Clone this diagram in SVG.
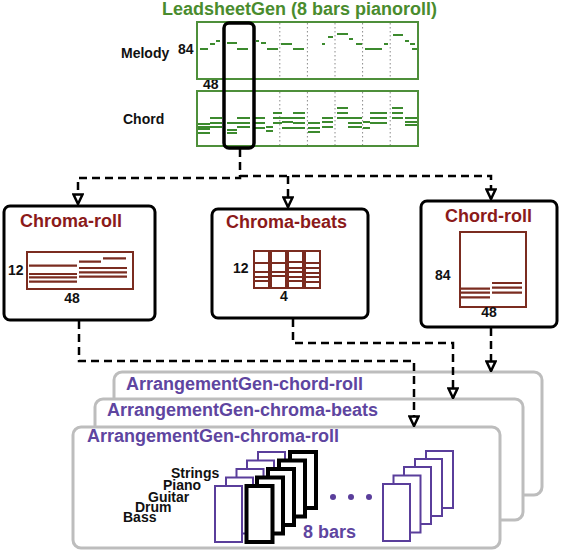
<svg xmlns="http://www.w3.org/2000/svg" width="564" height="552" viewBox="0 0 564 552">
<defs>
<style>
text{font-family:"Liberation Sans",Arial,sans-serif;font-weight:bold}
.lbl{font-size:14px;fill:#111}
.ins{font-size:14px;fill:#111}
.ttl{font-size:18px;fill:#8b1a1a}
.ptl{font-size:18px;fill:#5e45a0}
.gbox{fill:#fff;stroke:#4e8f3a;stroke-width:2}
.note{stroke:#3c8a2e;stroke-width:2;fill:none}
.bar{stroke:#8a8a8a;stroke-width:1;stroke-dasharray:1.5,2.5}
.node{fill:#fff;stroke:#000;stroke-width:3}
.inner{fill:#fff;stroke:#7b2c20;stroke-width:2}
.rl{stroke:#7b2c20;stroke-width:2.2;fill:none}
.arr{fill:#fff;stroke:#bdbdbd;stroke-width:3}
.conn{fill:none;stroke:#000;stroke-width:2.5;stroke-dasharray:8,5}
.pr{fill:#fff;stroke:#5a3e9b;stroke-width:2}
.br{fill:#fff;stroke:#000;stroke-width:4}
</style>
<marker id="ah" viewBox="0 0 12 12" refX="11" refY="6" markerWidth="12" markerHeight="12" markerUnits="userSpaceOnUse" orient="auto">
<path d="M1.5,1.5 L1.5,10.5 L11,6 Z" fill="#fff" stroke="#000" stroke-width="2.5" stroke-linejoin="miter"/>
</marker>
</defs>
<rect width="564" height="552" fill="#fff"/>

<g id="leadsheetgen">
<text x="162" y="15" style="font-size:18px;fill:#4a8c2e">LeadsheetGen (8 bars pianoroll)</text>
<text class="lbl" x="121" y="58">Melody</text>
<text class="lbl" x="123" y="124">Chord</text>
<text class="lbl" x="178" y="54">84</text>
<text class="lbl" x="203" y="89">48</text>
<rect class="gbox" x="197" y="22" width="221" height="57"/>
<rect class="gbox" x="197" y="91" width="221" height="55"/>
<g class="bar">
<path d="M279.8,23V78M307.4,23V78M335,23V78M362.6,23V78M390.2,23V78"/>
<path d="M279.8,92V145M307.4,92V145M335,92V145M362.6,92V145M390.2,92V145"/>
</g>
<path class="note" d="M200,49H208M210,44H215M216,41H220M227,43H237M237,49H248M256,41H259M261,43H266M267,49H278M281,44H292M293,49H304M322,44H325M328,37H333M337,34H348M349,39H353M356,44H362M365,49H382M384,44H388M393,35H403M405,41H409M410,44H415M412,49H417"/>
<path class="note" d="M198,124H210M198,127H210M198,129H210M198,133H210M210,118H222M210,123H222M210,127H222M227,123H237M227,130H237M227,133H237M237,118H250M237,123H250M237,127H250M255,118H265M255,123H265M255,128H265M266,127H273M266,131H273M273,113H282M273,118H282M273,123H282M282,118H293M282,122H293M282,128H293M293,113H305M293,118H305M293,123H305M293,128H305M308,123H320M308,128H320M308,132H320M322,118H333M322,122H333M322,127H333M337,108H348M337,113H348M337,118H348M348,118H362M348,123H362M348,127H362M363,122H370M363,128H370M370,113H387M370,118H387M370,123H387M392,108H403M392,113H403M392,118H403M405,118H417M405,122H417M405,125H417"/>
<rect x="224" y="23" width="30" height="125" rx="5" fill="none" stroke="#000" stroke-width="3.5"/>
</g>

<g id="chroma-roll">
<rect class="node" x="4" y="206" width="151" height="114" rx="6"/>
<text class="ttl" x="20" y="227">Chroma-roll</text>
<rect class="inner" x="27" y="252" width="106" height="37"/>
<path class="rl" d="M29,265.7H77M29,274H77M29,277.3H77M29,281.7H77M79,261.7H101M103,258.3H126M79,268H127M79,272.3H127M79,276.7H127"/>
<text class="lbl" x="8" y="275">12</text>
<text class="lbl" x="72" y="303" text-anchor="middle">48</text>
</g>

<g id="chroma-beats">
<rect class="node" x="212" y="209" width="156" height="109" rx="6"/>
<text class="ttl" x="226" y="228">Chroma-beats</text>
<g>
<rect class="inner" x="254" y="251" width="15" height="37"/>
<rect class="inner" x="271" y="251" width="15" height="37"/>
<rect class="inner" x="288" y="251" width="15" height="37"/>
<rect class="inner" x="305" y="251" width="15" height="37"/>
<path class="rl" d="M254,263H269M254,272H269M254,277H269M254,281H269M271,263H286M271,272H286M271,276H286M288,262H303M288,268H303M288,272H303M288,277H303M288,281H303M305,263H320M305,268H320M305,273H320M305,277H320M305,282H320"/>
</g>
<text class="lbl" x="233" y="273">12</text>
<text class="lbl" x="284" y="301" text-anchor="middle">4</text>
</g>

<g id="chord-roll">
<rect class="node" x="421" y="201" width="136" height="126" rx="6"/>
<text class="ttl" x="445" y="222">Chord-roll</text>
<rect class="inner" x="460" y="232" width="66" height="75"/>
<path class="rl" d="M461,288.7H490M461,292.7H490M461,297.3H490M492,283H522M492,287.7H522M492,292.7H522"/>
<text class="lbl" x="435" y="280">84</text>
<text class="lbl" x="489" y="317" text-anchor="middle">48</text>
</g>

<g id="arrangementgen-chord-roll">
<rect class="arr" x="114" y="372" width="428" height="123" rx="8"/>
<text class="ptl" x="126" y="390">ArrangementGen-chord-roll</text>
</g>
<g id="arrangementgen-chroma-beats">
<rect class="arr" x="95" y="399" width="428" height="121" rx="8"/>
<text class="ptl" x="107" y="416">ArrangementGen-chroma-beats</text>
</g>
<g id="arrangementgen-chroma-roll">
<rect class="arr" x="73" y="427" width="427" height="121" rx="8"/>
<text class="ptl" x="87" y="442">ArrangementGen-chroma-roll</text>
<text class="ins" x="171" y="478">Strings</text>
<text class="ins" x="163" y="490">Piano</text>
<text class="ins" x="148" y="502">Guitar</text>
<text class="ins" x="135" y="512">Drum</text>
<text class="ins" x="123" y="522">Bass</text>
<g>
<rect class="pr" x="258" y="452" width="27" height="56"/>
<rect class="pr" x="247" y="460.5" width="27" height="56"/>
<rect class="pr" x="236.5" y="469" width="27" height="56"/>
<rect class="pr" x="226" y="477.5" width="27" height="56"/>
<rect class="pr" x="215" y="486" width="27" height="56"/>
</g>
<g>
<rect class="br" x="290" y="452" width="26" height="56"/>
<rect class="br" x="279" y="460.5" width="26" height="56"/>
<rect class="br" x="268" y="469" width="26" height="56"/>
<rect class="br" x="257" y="477.5" width="26" height="56"/>
<rect class="br" x="246.5" y="486" width="26" height="56"/>
</g>
<g fill="#5a3e9b">
<circle cx="333" cy="497" r="3"/>
<circle cx="351" cy="497" r="3"/>
<circle cx="369" cy="497" r="3"/>
</g>
<g>
<rect class="pr" x="426" y="451" width="27" height="57"/>
<rect class="pr" x="415" y="459" width="27" height="57"/>
<rect class="pr" x="404" y="467" width="27" height="57"/>
<rect class="pr" x="393.5" y="475.5" width="27" height="57"/>
<rect class="pr" x="383" y="484" width="27" height="57"/>
</g>
<text class="ptl" x="303" y="538">8 bars</text>
</g>

<g id="connectors">
<path class="conn" d="M240,149V178H78V204" marker-end="url(#ah)"/>
<path class="conn" d="M240,176H491V199" marker-end="url(#ah)"/>
<path class="conn" d="M288,176V207" marker-end="url(#ah)"/>
<path class="conn" d="M79,321V361H414V426" marker-end="url(#ah)"/>
<path class="conn" d="M293,319V343H453V398" marker-end="url(#ah)"/>
<path class="conn" d="M491,328V371" marker-end="url(#ah)"/>
</g>
</svg>
